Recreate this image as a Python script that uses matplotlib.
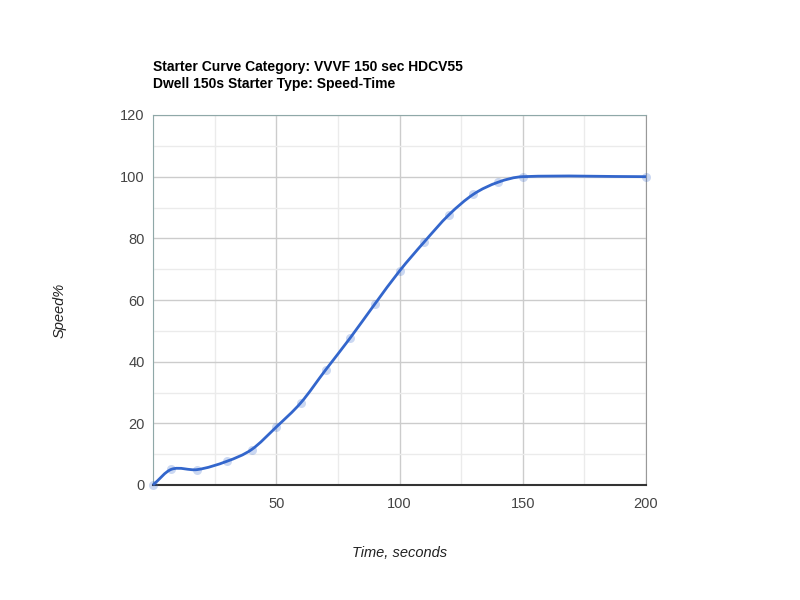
import matplotlib
matplotlib.use('Agg')
import matplotlib.pyplot as plt
from matplotlib.path import Path
from matplotlib.patches import PathPatch
from matplotlib.ticker import MultipleLocator

plt.rcParams['font.family'] = ['Liberation Sans', 'DejaVu Sans']

# data
time_s = [0, 7.5, 18, 30, 40, 50, 60, 70, 80, 90, 100, 110, 120, 130, 140, 150, 200]
speed_pct = [0, 5.1, 5.0, 7.7, 11.5, 18.8, 26.7, 37.3, 47.7, 58.7, 69.4, 78.8, 87.6, 94.3, 98.2, 100, 100]

title_lines = ['Starter Curve Category: VVVF 150 sec HDCV55',
               'Dwell 150s Starter Type: Speed-Time']
x_label = 'Time, seconds'
y_label = 'Speed%'
x_ticks = [50, 100, 150, 200]
y_ticks = [0, 20, 40, 60, 80, 100, 120]

line_color = '#3366cc'


def smooth_path(xs, ys):
    # cubic hermite through the points, drawn as bezier segments
    n = len(xs)
    slopes = []
    for i in range(n):
        a = max(i - 1, 0)
        b = min(i + 1, n - 1)
        slopes.append((ys[b] - ys[a]) / (xs[b] - xs[a]))
    verts = [(xs[0], ys[0])]
    codes = [Path.MOVETO]
    for i in range(n - 1):
        d = (xs[i + 1] - xs[i]) / 3.0
        c1 = (xs[i] + d, ys[i] + slopes[i] * d)
        c2 = (xs[i + 1] - d, ys[i + 1] - slopes[i + 1] * d)
        verts += [c1, c2, (xs[i + 1], ys[i + 1])]
        codes += [Path.CURVE4] * 3
    return Path(verts, codes)


fig = plt.figure(figsize=(8, 6), dpi=100)
ax = fig.add_axes([153 / 800, 1 - 485 / 600, 493 / 800, 370 / 600])

ax.set_xlim(0, 200)
ax.set_ylim(0, 120)
ax.xaxis.set_major_locator(MultipleLocator(50))
ax.xaxis.set_minor_locator(MultipleLocator(25))
ax.yaxis.set_major_locator(MultipleLocator(20))
ax.yaxis.set_minor_locator(MultipleLocator(10))
ax.set_xticks(x_ticks)
ax.set_yticks(y_ticks)
ax.grid(which='major', color='#cccccc', linewidth=1)
ax.grid(which='minor', color='#ebebeb', linewidth=1)
ax.set_axisbelow(True)
ax.tick_params(which='both', length=0)
ax.tick_params(axis='both', labelsize=10.5, colors='#444444', pad=6)
ax.tick_params(axis='x', pad=9)

for side in ['left', 'top']:
    ax.spines[side].set_color('#8fa8a8')
ax.spines['right'].set_color('#999999')
ax.spines['bottom'].set_color('#333333')
ax.spines['bottom'].set_linewidth(1.5)

ax.add_patch(PathPatch(smooth_path(time_s, speed_pct), facecolor='none',
                       edgecolor=line_color, linewidth=2, zorder=3,
                       clip_on=False))
ax.plot(time_s, speed_pct, linestyle='none', marker='o', markersize=6.5,
        markerfacecolor=line_color, markeredgecolor='none', alpha=0.25,
        zorder=4, clip_on=False)

fig.text(153 / 800, 1 - 67 / 600, title_lines[0], fontsize=10,
         fontweight='bold', color='#000000', va='center', ha='left')
fig.text(153 / 800, 1 - 84 / 600, title_lines[1], fontsize=10,
         fontweight='bold', color='#000000', va='center', ha='left')

fig.text(400 / 800, 1 - 553 / 600, x_label, fontsize=10.5, style='italic',
         color='#222222', ha='center', va='center')
fig.text(60 / 800, 1 - 310 / 600, y_label, fontsize=10.5, style='italic',
         color='#222222', ha='center', va='center', rotation=90)

fig.savefig('out.png', dpi=100)
